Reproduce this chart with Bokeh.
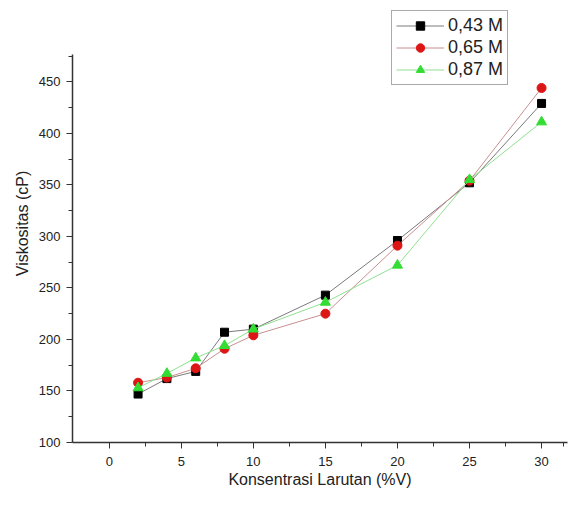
from bokeh.plotting import figure
from bokeh.models import Legend, LegendItem, Range1d, FixedTicker
from bokeh.embed import file_html
from bokeh.resources import INLINE

x = [2, 4, 6, 8, 10, 15, 20, 25, 30]
y043 = [147, 162, 169, 207, 210, 243, 296, 352, 429]
y065 = [158, 163, 172, 191, 204, 225, 291, 354, 444]
y087 = [153, 167, 182, 194, 210, 236, 272, 355, 411]
labels = ["0,43 M", "0,65 M", "0,87 M"]

FONT = "Liberation Sans"

p = figure(width=570, height=492, output_backend="svg", toolbar_location=None,
           x_range=Range1d(-2.55, 31.8), y_range=Range1d(100, 525),
           min_border_left=72, min_border_right=3, min_border_top=4, min_border_bottom=50)
p.outline_line_color = None
p.grid.visible = False

for ax in (p.xaxis[0], p.yaxis[0]):
    ax.axis_line_color = "#333333"
    ax.axis_line_width = 1.5
    ax.major_tick_line_color = "#333333"
    ax.minor_tick_line_color = "#333333"
    ax.major_tick_out = 6
    ax.major_tick_in = 0
    ax.minor_tick_out = 4
    ax.minor_tick_in = 0
    ax.major_label_text_font = FONT
    ax.major_label_text_font_size = "13px"
    ax.major_label_text_color = "#222222"
    ax.axis_label_text_font = FONT
    ax.axis_label_text_font_size = "16px"
    ax.axis_label_text_font_style = "normal"
    ax.axis_label_text_color = "#222222"

p.yaxis.bounds = (100, 476)
p.xaxis.ticker = FixedTicker(ticks=[0, 5, 10, 15, 20, 25, 30], minor_ticks=[2.5, 7.5, 12.5, 17.5, 22.5, 27.5, 31.5])
p.yaxis.ticker = FixedTicker(ticks=[100, 150, 200, 250, 300, 350, 400, 450],
                             minor_ticks=[125, 175, 225, 275, 325, 375, 425, 475])
p.xaxis.axis_label = "Konsentrasi Larutan (%V)"
p.yaxis.axis_label = "Viskositas (cP)"
p.xaxis.major_label_standoff = 8
p.xaxis.axis_label_standoff = 2
p.yaxis.major_label_standoff = 6

l1 = p.line(x, y043, line_color="#7a7a7a", line_width=1)
m1 = p.scatter(x, y043, marker="square", size=8, fill_color="black", line_color="black")
l2 = p.line(x, y065, line_color="#c89090", line_width=1)
m2 = p.scatter(x, y065, marker="circle", size=9, fill_color="#dd1515", line_color="#dd1515")
l3 = p.line(x, y087, line_color="#8fe08f", line_width=1)
m3 = p.scatter(x, y087, marker="triangle", size=10, fill_color="#33dd33", line_color="#33dd33")

legend = Legend(items=[LegendItem(label=labels[0], renderers=[l1, m1]),
                       LegendItem(label=labels[1], renderers=[l2, m2]),
                       LegendItem(label=labels[2], renderers=[l3, m3])],
                location=(319, 357))
legend.label_text_font = FONT
legend.label_text_font_size = "18px"
legend.label_text_color = "#222222"
legend.border_line_color = "#555555"
legend.border_line_width = 1.5
legend.padding = 4
legend.spacing = 1
legend.glyph_width = 48
legend.label_standoff = 4
legend.margin = 0
legend.label_height = 21
legend.glyph_height = 21
p.add_layout(legend)

open("out.html", "w").write(file_html(p, INLINE))
